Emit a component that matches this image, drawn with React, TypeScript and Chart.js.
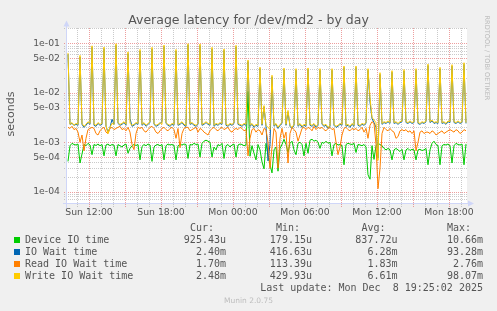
import React, { useEffect, useRef } from 'react';
import { Chart, registerables } from 'chart.js';

Chart.register(...registerables);

// time axis: minutes since Sun 00:00, one sample every 10 minutes
const START_MIN = 615;
const STEP_MIN = 10;
const X_MIN = 610;
const X_MAX = 2610;
const Y_MIN = 5.64e-5;
const Y_MAX = 0.204;

const xTickValues = [720, 1080, 1440, 1800, 2160, 2520];
const xTickLabels = ['Sun 12:00', 'Sun 18:00', 'Mon 00:00', 'Mon 06:00', 'Mon 12:00', 'Mon 18:00'];
const yTickValues = [1e-4, 5e-4, 1e-3, 5e-3, 1e-2, 5e-2, 1e-1];
const yTickLabels = ['1e-04', '5e-04', '1e-03', '5e-03', '1e-02', '5e-02', '1e-01'];

// values in milliseconds
const deviceIoMs = [
  0.41, 0.85, 0.95, 0.9, 0.88, 0.92,
  0.38, 0.58, 0.9, 0.85, 0.95, 0.88,
  0.56, 0.9, 0.86, 0.92, 0.85, 0.9,
  0.53, 0.88, 0.92, 0.85, 0.9, 0.87,
  0.53, 0.9, 0.85, 0.8, 0.88, 0.92,
  0.6, 0.75, 0.85, 0.9, 0.86, 0.9,
  0.44, 0.82, 0.9, 0.85, 0.92, 0.88,
  0.41, 0.8, 0.88, 0.9, 0.85, 0.9,
  0.44, 0.85, 0.92, 0.88, 0.9, 0.86,
  0.44, 0.85, 0.9, 0.88, 0.92, 0.9,
  0.47, 0.9, 0.88, 0.95, 0.9, 0.92,
  0.5, 0.95, 1.05, 1.1, 1.05, 1.0,
  0.5, 0.8, 0.7, 0.9, 0.85, 0.95,
  0.47, 0.85, 0.9, 0.8, 0.88, 0.92,
  0.5, 0.88, 0.92, 0.9, 0.85, 0.88,
  10.66, 0.52, 0.85, 0.6, 0.44, 0.9,
  0.7, 0.4, 0.29, 0.95, 0.55, 0.35,
  0.24, 0.7, 0.8, 0.26, 0.75, 0.9,
  1.15, 0.9, 0.62, 0.95, 1.05, 0.7,
  0.56, 0.95, 1.0, 0.9, 0.53, 0.95,
  0.6, 1.1, 1.15, 1.05, 1.1, 1.0,
  0.75, 1.0, 0.95, 1.05, 0.95, 1.0,
  0.53, 0.9, 0.95, 0.88, 0.9, 0.85,
  0.35, 0.9, 0.95, 0.92, 0.9, 0.95,
  0.62, 0.9, 0.88, 0.85, 0.9, 0.8,
  0.22, 0.179, 0.85, 0.45, 0.85, 0.95,
  0.9, 0.85, 0.75, 0.7, 0.75, 0.7,
  0.44, 0.7, 0.75, 0.7, 0.65, 0.72,
  0.44, 0.7, 0.75, 0.68, 0.72, 0.7,
  0.44, 0.7, 0.72, 0.68, 0.7, 0.75,
  0.35, 0.7, 0.95, 1.05, 0.9, 0.85,
  0.35, 0.85, 0.9, 0.88, 0.92, 0.85,
  0.38, 0.85, 0.95, 0.9, 0.88, 0.92,
  0.35, 0.925,
];

const ioWaitMs = [
  60, 2.3, 2.4, 2.2, 2.3, 2.2,
  53, 2.3, 2.0, 2.2, 2.5, 2.3,
  83, 2.2, 2.1, 2.4, 2.2, 2.3,
  78, 2.1, 1.6, 2.0, 2.9, 2.3,
  91, 2.4, 2.2, 2.3, 2.5, 2.2,
  62, 3.0, 2.1, 2.2, 2.4, 2.3,
  70, 2.2, 2.4, 2.1, 2.3, 2.5,
  77, 2.3, 2.1, 2.2, 2.4, 2.6,
  86, 2.4, 2.2, 2.1, 2.3, 2.2,
  70, 2.2, 2.3, 2.5, 2.2, 2.1,
  93.28, 2.3, 2.4, 2.2, 2.1, 2.3,
  90, 2.2, 2.3, 2.5, 2.3, 2.2,
  77, 2.1, 2.3, 2.2, 2.4, 2.3,
  72, 2.2, 2.1, 2.3, 2.2, 2.4,
  85, 2.3, 2.2, 2.1, 2.3, 2.2,
  43, 2.1, 2.3, 2.0, 2.2, 2.1,
  31, 2.2, 5.2, 2.1, 0.42, 0.9,
  21, 2.1, 2.3, 1.9, 2.2, 2.4,
  29.5, 2.2, 4.1, 2.1, 1.9, 2.2,
  28.5, 2.1, 2.3, 2.0, 2.2, 2.1,
  29.5, 2.2, 2.1, 2.3, 2.0, 2.2,
  28.5, 2.3, 2.1, 2.2, 1.9, 2.1,
  28.5, 2.2, 2.0, 2.1, 2.3, 2.2,
  32.5, 2.1, 2.2, 2.0, 2.3, 2.1,
  32.5, 2.2, 2.1, 2.3, 2.2, 2.4,
  28.5, 6.5, 3.0, 2.5, 2.0, 0.48,
  23.5, 2.3, 2.5, 2.4, 2.6, 2.4,
  26, 2.4, 2.5, 2.3, 2.5, 2.6,
  27.5, 2.5, 2.4, 2.6, 2.4, 2.5,
  28.5, 2.4, 2.3, 2.5, 2.4, 2.6,
  35.5, 2.5, 2.7, 2.4, 2.5, 2.4,
  30.5, 2.4, 2.5, 2.3, 2.6, 2.5,
  34.5, 2.5, 2.4, 2.6, 2.4, 2.5,
  37.5, 2.4,
];

const readIoWaitMs = [
  2.0, 1.9, 2.1, 1.8, 1.9, 1.6,
  1.0, 1.4, 0.67, 1.2, 1.8, 1.9,
  2.0, 1.9, 1.5, 1.4, 1.7, 1.9,
  2.0, 1.6, 1.5, 1.9, 2.0, 1.8,
  1.9, 2.0, 2.1, 1.8, 1.9, 1.7,
  2.0, 1.6, 0.9, 0.71, 1.5, 2.0,
  1.9, 2.0, 1.7, 1.6, 1.8, 2.0,
  2.1, 1.9, 1.6, 1.5, 1.7, 1.9,
  2.0, 1.8, 1.7, 1.9, 2.0, 1.8,
  1.2, 1.9, 0.78, 1.5, 1.9, 2.0,
  2.0, 1.7, 1.8, 1.9, 2.0, 1.6,
  1.9, 1.8, 1.6, 1.5, 1.4, 1.7,
  1.9, 2.0, 1.8, 1.7, 1.9, 2.0,
  1.8, 1.9, 2.0, 1.7, 1.6, 1.8,
  1.9, 1.8, 2.0, 1.9, 1.7, 1.8,
  0.53, 1.2, 1.8, 1.9, 1.6, 1.8,
  1.7, 1.4, 1.9, 1.8, 1.0, 0.3,
  0.8, 1.9, 1.6, 0.3, 1.2, 1.9,
  1.2, 1.6, 0.38, 1.5, 2.0, 1.8,
  1.6, 1.05, 1.4, 1.9, 2.0, 1.8,
  2.0, 1.9, 1.7, 2.1, 1.8, 2.0,
  1.9, 2.0, 1.8, 1.7, 1.9, 2.0,
  1.8, 1.9, 1.0, 0.56, 0.8, 1.4,
  1.9, 2.0, 1.8, 1.7, 1.9, 1.8,
  1.9, 1.7, 1.8, 2.0, 1.6, 1.9,
  1.2, 2.2, 2.6, 2.4, 0.9, 0.115,
  0.3, 1.5, 2.0, 1.8, 1.7, 1.9,
  1.7, 1.6, 1.2, 1.3, 1.7, 1.8,
  1.7, 1.8, 1.6, 1.7, 1.5, 1.7,
  0.67, 1.0, 1.6, 1.7, 1.5, 1.6,
  1.6, 1.5, 1.7, 1.6, 1.4, 1.5,
  1.6, 1.7, 1.5, 1.6, 1.7, 1.8,
  1.7, 1.6, 1.8, 1.7, 1.5, 1.6,
  1.8, 1.7,
];

const writeIoWaitMs = [
  64, 2.3, 2.5, 2.2, 2.4, 2.3,
  57, 2.4, 2.1, 2.3, 2.6, 2.4,
  89, 2.3, 2.2, 2.5, 2.3, 2.4,
  84, 2.2, 1.5, 2.0, 2.4, 2.3,
  98, 2.5, 2.3, 2.4, 2.6, 2.3,
  67, 2.4, 2.2, 2.3, 2.5, 2.4,
  75, 2.3, 2.5, 2.2, 2.4, 2.6,
  83, 2.4, 2.2, 2.3, 2.5, 2.3,
  92, 2.5, 2.3, 2.2, 2.4, 2.3,
  75, 2.3, 2.4, 2.6, 2.3, 2.2,
  98.07, 2.4, 2.5, 2.3, 2.2, 2.4,
  97, 2.3, 2.4, 2.6, 2.4, 2.3,
  83, 2.2, 2.4, 2.3, 2.5, 2.4,
  77, 2.3, 2.2, 2.4, 2.3, 2.5,
  91, 2.4, 2.3, 2.2, 2.4, 2.3,
  46, 2.2, 2.4, 2.1, 2.3, 2.2,
  33, 2.3, 5.5, 2.2, 2.0, 1.8,
  22.6, 2.2, 2.4, 2.0, 2.3, 2.5,
  31.7, 2.3, 4.4, 2.2, 2.0, 2.3,
  30.7, 2.2, 2.4, 2.1, 2.3, 2.2,
  31.7, 2.3, 2.2, 2.4, 2.1, 2.3,
  30.7, 2.4, 2.2, 2.3, 2.0, 2.2,
  30.7, 2.3, 2.1, 2.2, 2.4, 2.3,
  34.8, 2.2, 2.3, 2.1, 2.4, 2.2,
  34.8, 2.3, 2.2, 2.4, 2.3, 2.5,
  30.7, 7.9, 3.2, 2.8, 2.5, 0.43,
  25.5, 2.4, 2.6, 2.5, 2.7, 2.5,
  28, 2.5, 2.6, 2.4, 2.6, 2.7,
  29.5, 2.6, 2.5, 2.7, 2.5, 2.6,
  30.7, 2.5, 2.4, 2.6, 2.5, 2.7,
  38, 2.6, 2.8, 2.5, 2.6, 2.5,
  32.7, 2.5, 2.6, 2.4, 2.7, 2.6,
  37, 2.6, 2.5, 2.7, 2.5, 2.6,
  40.5, 2.48,
];

const seriesNames = ['Device IO time', 'IO Wait time', 'Read IO Wait time', 'Write IO Wait time'];
const seriesColors = ['#00CC00', '#0066B3', '#FF8000', '#FFCC00'];
const curValues = ['925.43u', '2.40m', '1.70m', '2.48m'];
const minValues = ['179.15u', '416.63u', '113.39u', '429.93u'];
const avgValues = ['837.72u', '6.28m', '1.83m', '6.61m'];
const maxValues = ['10.66m', '93.28m', '2.76m', '98.07m'];

const TEXT = '#555555';
const SANS = "'DejaVu Sans', sans-serif";
const MONO = "'DejaVu Sans Mono', monospace";

const rrdPlugin = {
  id: 'rrdGrid',
  beforeDatasetsDraw(chart: any) {
    const { ctx, chartArea: a, scales } = chart;
    const xs = scales.x;
    const ys = scales.y;
    ctx.save();
    ctx.fillStyle = '#FFFFFF';
    ctx.fillRect(a.left, a.top, a.right - a.left, a.bottom - a.top);
    ctx.lineWidth = 1;
    ctx.setLineDash([1, 1]);
    // horizontal grid
    for (let e = -5; e <= 0; e++) {
      for (let m = 1; m <= 9; m++) {
        const v = m * Math.pow(10, e);
        if (v < Y_MIN || v > Y_MAX) continue;
        const major = m === 1 || m === 5;
        const py = Math.round(ys.getPixelForValue(v)) + 0.5;
        ctx.strokeStyle = major ? 'rgba(222,79,79,0.55)' : 'rgba(150,150,150,0.5)';
        ctx.beginPath();
        ctx.moveTo(a.left - 3, py);
        ctx.lineTo(a.right, py);
        ctx.stroke();
      }
    }
    // vertical grid: every hour, major every 3 hours
    for (let t = 660; t < X_MAX; t += 60) {
      const major = t % 180 === 0;
      const px = Math.round(xs.getPixelForValue(t)) + 0.5;
      ctx.strokeStyle = major ? 'rgba(222,79,79,0.55)' : 'rgba(150,150,150,0.5)';
      ctx.beginPath();
      ctx.moveTo(px, a.top);
      ctx.lineTo(px, a.bottom + 3);
      ctx.stroke();
    }
    ctx.restore();
  },
  afterDatasetsDraw(chart: any) {
    const { ctx, chartArea: a } = chart;
    ctx.save();
    ctx.setLineDash([]);
    ctx.strokeStyle = '#CFD6F8';
    ctx.fillStyle = '#CFD6F8';
    ctx.lineWidth = 1;
    const by = a.bottom - 0.5;
    const lx = a.left - 0.5;
    ctx.beginPath();
    ctx.moveTo(a.left - 4, by);
    ctx.lineTo(a.right + 2, by);
    ctx.moveTo(lx, a.bottom + 4);
    ctx.lineTo(lx, a.top - 2);
    ctx.stroke();
    // arrows
    ctx.beginPath();
    ctx.moveTo(a.right + 7, by);
    ctx.lineTo(a.right + 1, by - 3);
    ctx.lineTo(a.right + 1, by + 3);
    ctx.closePath();
    ctx.fill();
    ctx.beginPath();
    ctx.moveTo(lx, a.top - 7.5);
    ctx.lineTo(lx - 3, a.top - 1.5);
    ctx.lineTo(lx + 3, a.top - 1.5);
    ctx.closePath();
    ctx.fill();
    ctx.restore();
  },
};

export default function App() {
  const ref = useRef<HTMLCanvasElement>(null);

  useEffect(() => {
    const toPts = (arr: number[]) => arr.map((v, i) => ({ x: START_MIN + i * STEP_MIN, y: v / 1000 }));
    const ds = (idx: number, arr: number[]) => ({
      label: seriesNames[idx],
      data: toPts(arr),
      borderColor: seriesColors[idx],
      backgroundColor: seriesColors[idx],
      borderWidth: 1,
      pointRadius: 0,
      tension: 0,
      fill: false,
    });
    const chart = new Chart(ref.current as HTMLCanvasElement, {
      type: 'line',
      data: {
        datasets: [
          ds(3, writeIoWaitMs),
          ds(2, readIoWaitMs),
          ds(1, ioWaitMs),
          ds(0, deviceIoMs),
        ],
      },
      options: {
        animation: false,
        responsive: false,
        maintainAspectRatio: false,
        devicePixelRatio: 1,
        layout: { padding: { left: 0, right: 30, top: 28, bottom: 0 } },
        plugins: {
          legend: { display: false },
          tooltip: { enabled: false },
          title: { display: false },
        },
        scales: {
          x: {
            type: 'linear',
            min: X_MIN,
            max: X_MAX,
            afterBuildTicks: (axis: any) => {
              axis.ticks = xTickValues.map((v) => ({ value: v }));
            },
            afterFit: (axis: any) => {
              axis.height = 107;
            },
            ticks: {
              autoSkip: false,
              maxRotation: 0,
              minRotation: 0,
              padding: 3,
              color: TEXT,
              font: { family: 'DejaVu Sans', size: 9.3 },
              callback: (_v: any, i: number) => xTickLabels[i],
            },
            grid: { display: false, drawTicks: false },
            border: { display: false },
          },
          y: {
            type: 'logarithmic',
            min: Y_MIN,
            max: Y_MAX,
            afterBuildTicks: (axis: any) => {
              axis.ticks = yTickValues.map((v) => ({ value: v }));
            },
            afterFit: (axis: any) => {
              axis.width = 67;
            },
            ticks: {
              autoSkip: false,
              padding: 7,
              color: TEXT,
              font: { family: 'DejaVu Sans', size: 9.3 },
              callback: (_v: any, i: number) => yTickLabels[i],
            },
            grid: { display: false, drawTicks: false },
            border: { display: false },
          },
        },
      } as any,
      plugins: [rrdPlugin],
    });
    return () => chart.destroy();
  }, []);

  const rowTop = (r: number) => 233.8 + r * 12;
  const mono: React.CSSProperties = {
    position: 'absolute',
    fontFamily: MONO,
    fontSize: 10,
    lineHeight: '12px',
    color: TEXT,
    whiteSpace: 'pre',
  };
  const right = (x: number, top: number, text: string, key: string) => (
    <div key={key} style={{ ...mono, top, right: 497 - x, textAlign: 'right' }}>{text}</div>
  );

  return (
    <div style={{ position: 'fixed', left: 0, top: 0, width: 497, height: 311, background: '#F0F0F0', overflow: 'hidden' }}>
      <canvas ref={ref} width={497} height={311} style={{ position: 'absolute', left: 0, top: 0, width: 497, height: 311 }} />
      <div style={{ position: 'absolute', left: 0, width: 497, top: 12.5, textAlign: 'center', fontFamily: SANS, fontSize: 12.5, lineHeight: '14px', color: TEXT, whiteSpace: 'pre' }}>
        Average latency for /dev/md2 - by day
      </div>
      <div style={{ position: 'absolute', left: 11.2 - 50, top: 114.2 - 7, width: 100, textAlign: 'center', fontFamily: SANS, fontSize: 11, lineHeight: '14px', color: TEXT, transform: 'rotate(-90deg)' }}>
        seconds
      </div>
      <div style={{ position: 'absolute', left: 487.3 - 60, top: 57.5 - 4, width: 120, textAlign: 'center', fontFamily: SANS, fontSize: 6.6, lineHeight: '8px', color: '#BBBBBB', transform: 'rotate(90deg)', whiteSpace: 'pre' }}>
        RRDTOOL / TOBI OETIKER
      </div>
      {right(214, 222, 'Cur:', 'hc')}
      {right(300, 222, 'Min:', 'hm')}
      {right(385.5, 222, 'Avg:', 'ha')}
      {right(471, 222, 'Max:', 'hx')}
      {seriesNames.map((name, r) => (
        <React.Fragment key={name}>
          <div style={{ position: 'absolute', left: 14, top: 237 + r * 12, width: 6, height: 6, background: seriesColors[r] }} />
          <div style={{ ...mono, left: 25, top: rowTop(r) }}>{name}</div>
          {right(226, rowTop(r), curValues[r], 'c' + r)}
          {right(312, rowTop(r), minValues[r], 'm' + r)}
          {right(397.5, rowTop(r), avgValues[r], 'a' + r)}
          {right(483, rowTop(r), maxValues[r], 'x' + r)}
        </React.Fragment>
      ))}
      {right(483, 281.8, 'Last update: Mon Dec  8 19:25:02 2025', 'lu')}
      <div style={{ position: 'absolute', left: 0, width: 497, top: 296.2, textAlign: 'center', fontFamily: SANS, fontSize: 7.5, lineHeight: '9px', color: '#BDBDBD' }}>
        Munin 2.0.75
      </div>
    </div>
  );
}
